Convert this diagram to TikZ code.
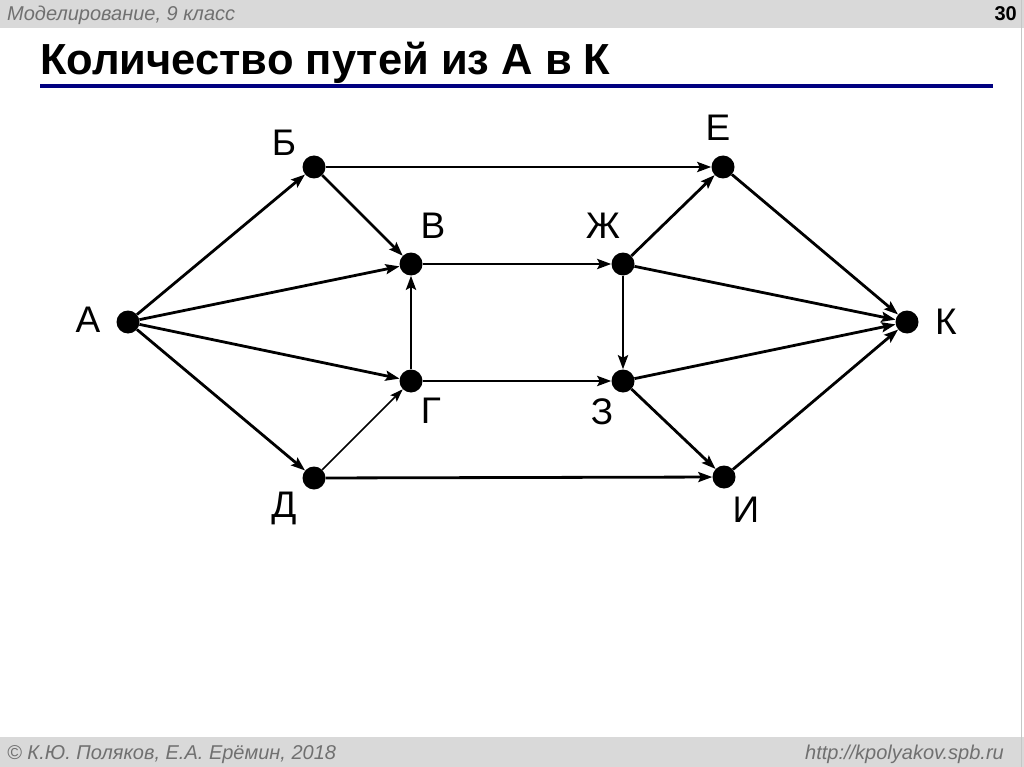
\documentclass[tikz,border=0pt]{standalone}
\usepackage{fontspec}
\setmainfont{Liberation Sans}
\newfontfamily\titlefont{Liberation Sans}
\usetikzlibrary{arrows.meta}
\definecolor{bandgray}{HTML}{D9D9D9}
\definecolor{textgray}{HTML}{707070}
\definecolor{navy}{HTML}{000080}
\tikzset{
  dot/.style={circle,fill=black,inner sep=0pt,minimum size=23pt},
  lbl/.style={inner sep=0pt,font=\fontsize{37}{40}\selectfont},
  edge/.style={line width=2.8pt,-{Stealth[length=14pt,width=10pt,inset=2.5pt]}},
  thinedge/.style={line width=1.6pt,-{Stealth[length=13pt,width=9pt,inset=2.5pt]}},
  hdr/.style={inner sep=0pt,text=textgray,font=\fontsize{20}{24}\selectfont\itshape},
}
\begin{document}
\begin{tikzpicture}[x=1pt,y=-1pt]
\useasboundingbox (0,0) rectangle (1024,767);
\fill[white] (0,0) rectangle (1024,767);
% header / footer bands
\fill[bandgray] (0,0) rectangle (1024,28);
\fill[bandgray] (0,737) rectangle (1024,767);
\draw[gray!45,line width=1pt] (1021.5,0) -- (1021.5,767);
\node[hdr,anchor=base west] (hl) at (7,21) {Моделирование, 9 класс};
\node[inner sep=0pt,anchor=base east,font=\fontsize{20}{24}\selectfont\bfseries] (hn) at (1017,21) {30};
\node[inner sep=0pt,anchor=base west,font=\fontsize{43.5}{48}\selectfont\titlefont\bfseries] (title) at (40,74.5) {Количество путей из А в К};
\fill[navy] (40,84.5) rectangle (993,88.5);
\node[hdr,anchor=base west] (fl) at (7,759) {© К.Ю. Поляков, Е.А. Ерёмин, 2018};
\node[hdr,anchor=base east] (fr) at (1004,759) {http://kpolyakov.spb.ru};
% vertices
\node[dot] (A) at (128,322) {};
\node[dot] (B) at (314,167) {};
\node[dot] (V) at (411,264) {};
\node[dot] (G) at (411,381) {};
\node[dot] (D) at (314,478) {};
\node[dot] (Zh) at (623,264) {};
\node[dot] (Z) at (623,381) {};
\node[dot] (E) at (723,167) {};
\node[dot] (I) at (724,477) {};
\node[dot] (K) at (907,322) {};
% labels
\node[lbl] (lA) at (88,320) {А};
\node[lbl] (lB) at (284,143) {Б};
\node[lbl] (lV) at (433,226) {В};
\node[lbl] (lG) at (431,411) {Г};
\node[lbl] (lD) at (284,508) {Д};
\node[lbl] (lZh) at (603,226) {Ж};
\node[lbl] (lZ) at (602,412) {З};
\node[lbl] (lE) at (718,128) {Е};
\node[lbl] (lI) at (746,510) {И};
\node[lbl] (lK) at (946,322) {К};
% edges
\draw[edge] (A) -- (B);
\draw[edge] (A) -- (V);
\draw[edge] (A) -- (G);
\draw[edge] (A) -- (D);
\draw[edge] (B) -- (V);
\draw[edge] (B) -- (E);
\draw[edge] (V) -- (Zh);
\draw[edge] (G) -- (V);
\draw[thinedge] (D) -- (G);
\draw[edge] (G) -- (Z);
\draw[edge] (D) -- (I);
\draw[edge] (Zh) -- (E);
\draw[edge] (Zh) -- (Z);
\draw[edge] (Zh) -- (K);
\draw[edge] (E) -- (K);
\draw[edge] (Z) -- (K);
\draw[edge] (Z) -- (I);
\draw[edge] (I) -- (K);
\end{tikzpicture}
\end{document}
